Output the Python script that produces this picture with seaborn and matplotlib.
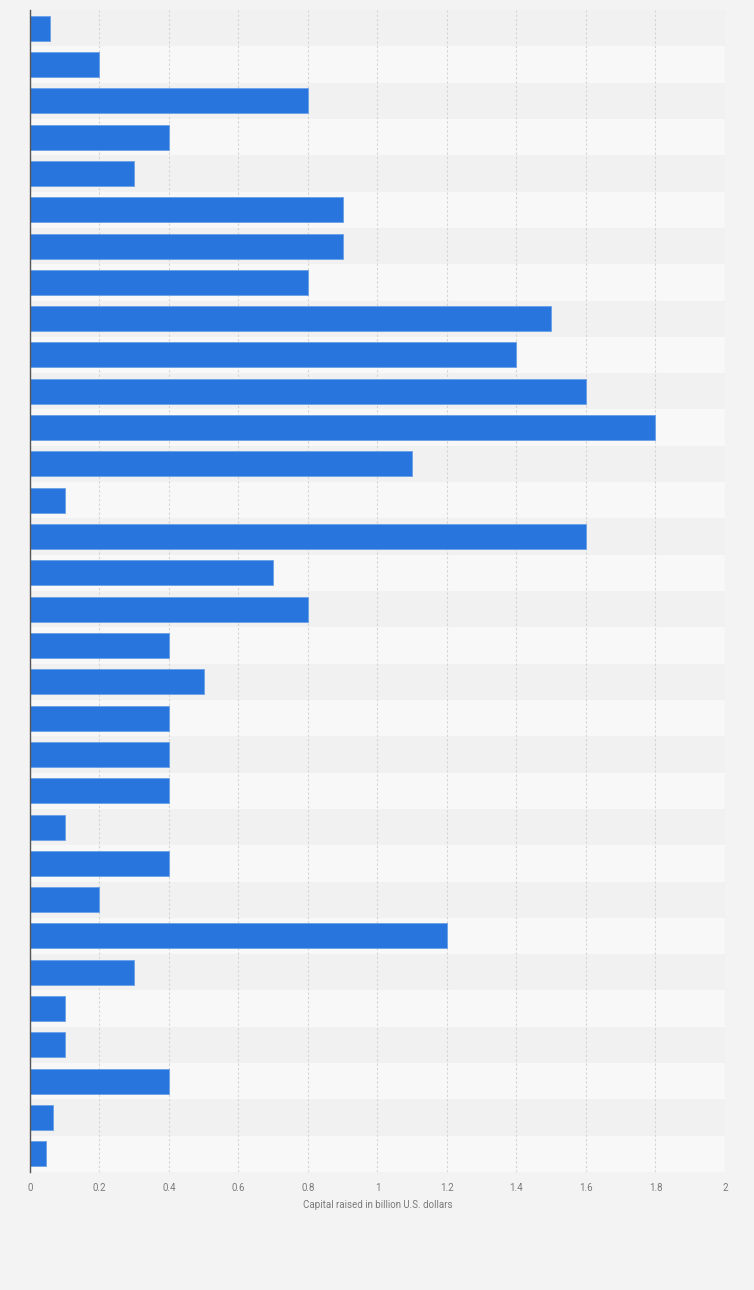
import seaborn as sns
import matplotlib.pyplot as plt
import pandas as pd
import numpy as np

# capital raised per entry (billion U.S. dollars), top to bottom
rank = list(range(1, 33))
capital = [0.058, 0.2, 0.8, 0.4, 0.3, 0.9, 0.9, 0.8, 1.5, 1.4, 1.6, 1.8, 1.1, 0.1, 1.6, 0.7,
           0.8, 0.4, 0.5, 0.4, 0.4, 0.4, 0.1, 0.4, 0.2, 1.2, 0.3, 0.1, 0.1, 0.4, 0.066, 0.047]
xticks = [0, 0.2, 0.4, 0.6, 0.8, 1, 1.2, 1.4, 1.6, 1.8, 2]
xticklabels = ["0", "0.2", "0.4", "0.6", "0.8", "1", "1.2", "1.4", "1.6", "1.8", "2"]

df = pd.DataFrame({"rank": [str(r) for r in rank], "capital": capital})

sns.set_theme(style="white")
plt.rcParams['font.family'] = ['Roboto', 'DejaVu Sans']

fig = plt.figure(figsize=(7.54, 12.9), dpi=100)
fig.patch.set_facecolor("#f3f3f3")
ax = fig.add_axes([30 / 754, 1 - 1172 / 1290, 695 / 754, 1162 / 1290])
ax.set_facecolor("#f8f8f8")

# alternating row bands
for i in range(len(rank)):
    if i % 2 == 0:
        ax.axhspan(i - 0.5, i + 0.5, color="#f1f1f1", zorder=0, lw=0)

sns.barplot(data=df, x="capital", y="rank", orient="h", color="#2876dd",
            saturation=1, width=0.69, ax=ax, zorder=3,
            edgecolor="#6a9fe6", linewidth=0.6)

ax.set_xlim(0, 2)
ax.set_ylim(len(rank) - 0.5, -0.5)
ax.set_xticks(xticks)
ax.set_xticklabels(xticklabels, fontsize=7, color="#7a7a7a")
ax.tick_params(axis="x", length=0, pad=8)
ax.set_yticks([])
ax.set_ylabel("")
ax.set_xlabel("Capital raised in billion U.S. dollars", fontsize=7, color="#7a7a7a", labelpad=5)
ax.grid(True, axis="x", color="#d4d4d4", linestyle=(0, (2, 2)), linewidth=0.8, zorder=1)
ax.set_axisbelow(True)

for s in ["top", "right", "bottom"]:
    ax.spines[s].set_visible(False)
ax.spines["left"].set_color("#555555")
ax.spines["left"].set_linewidth(1)
ax.spines["left"].set_zorder(5)

fig.savefig("out.png", dpi=100, facecolor=fig.get_facecolor())
